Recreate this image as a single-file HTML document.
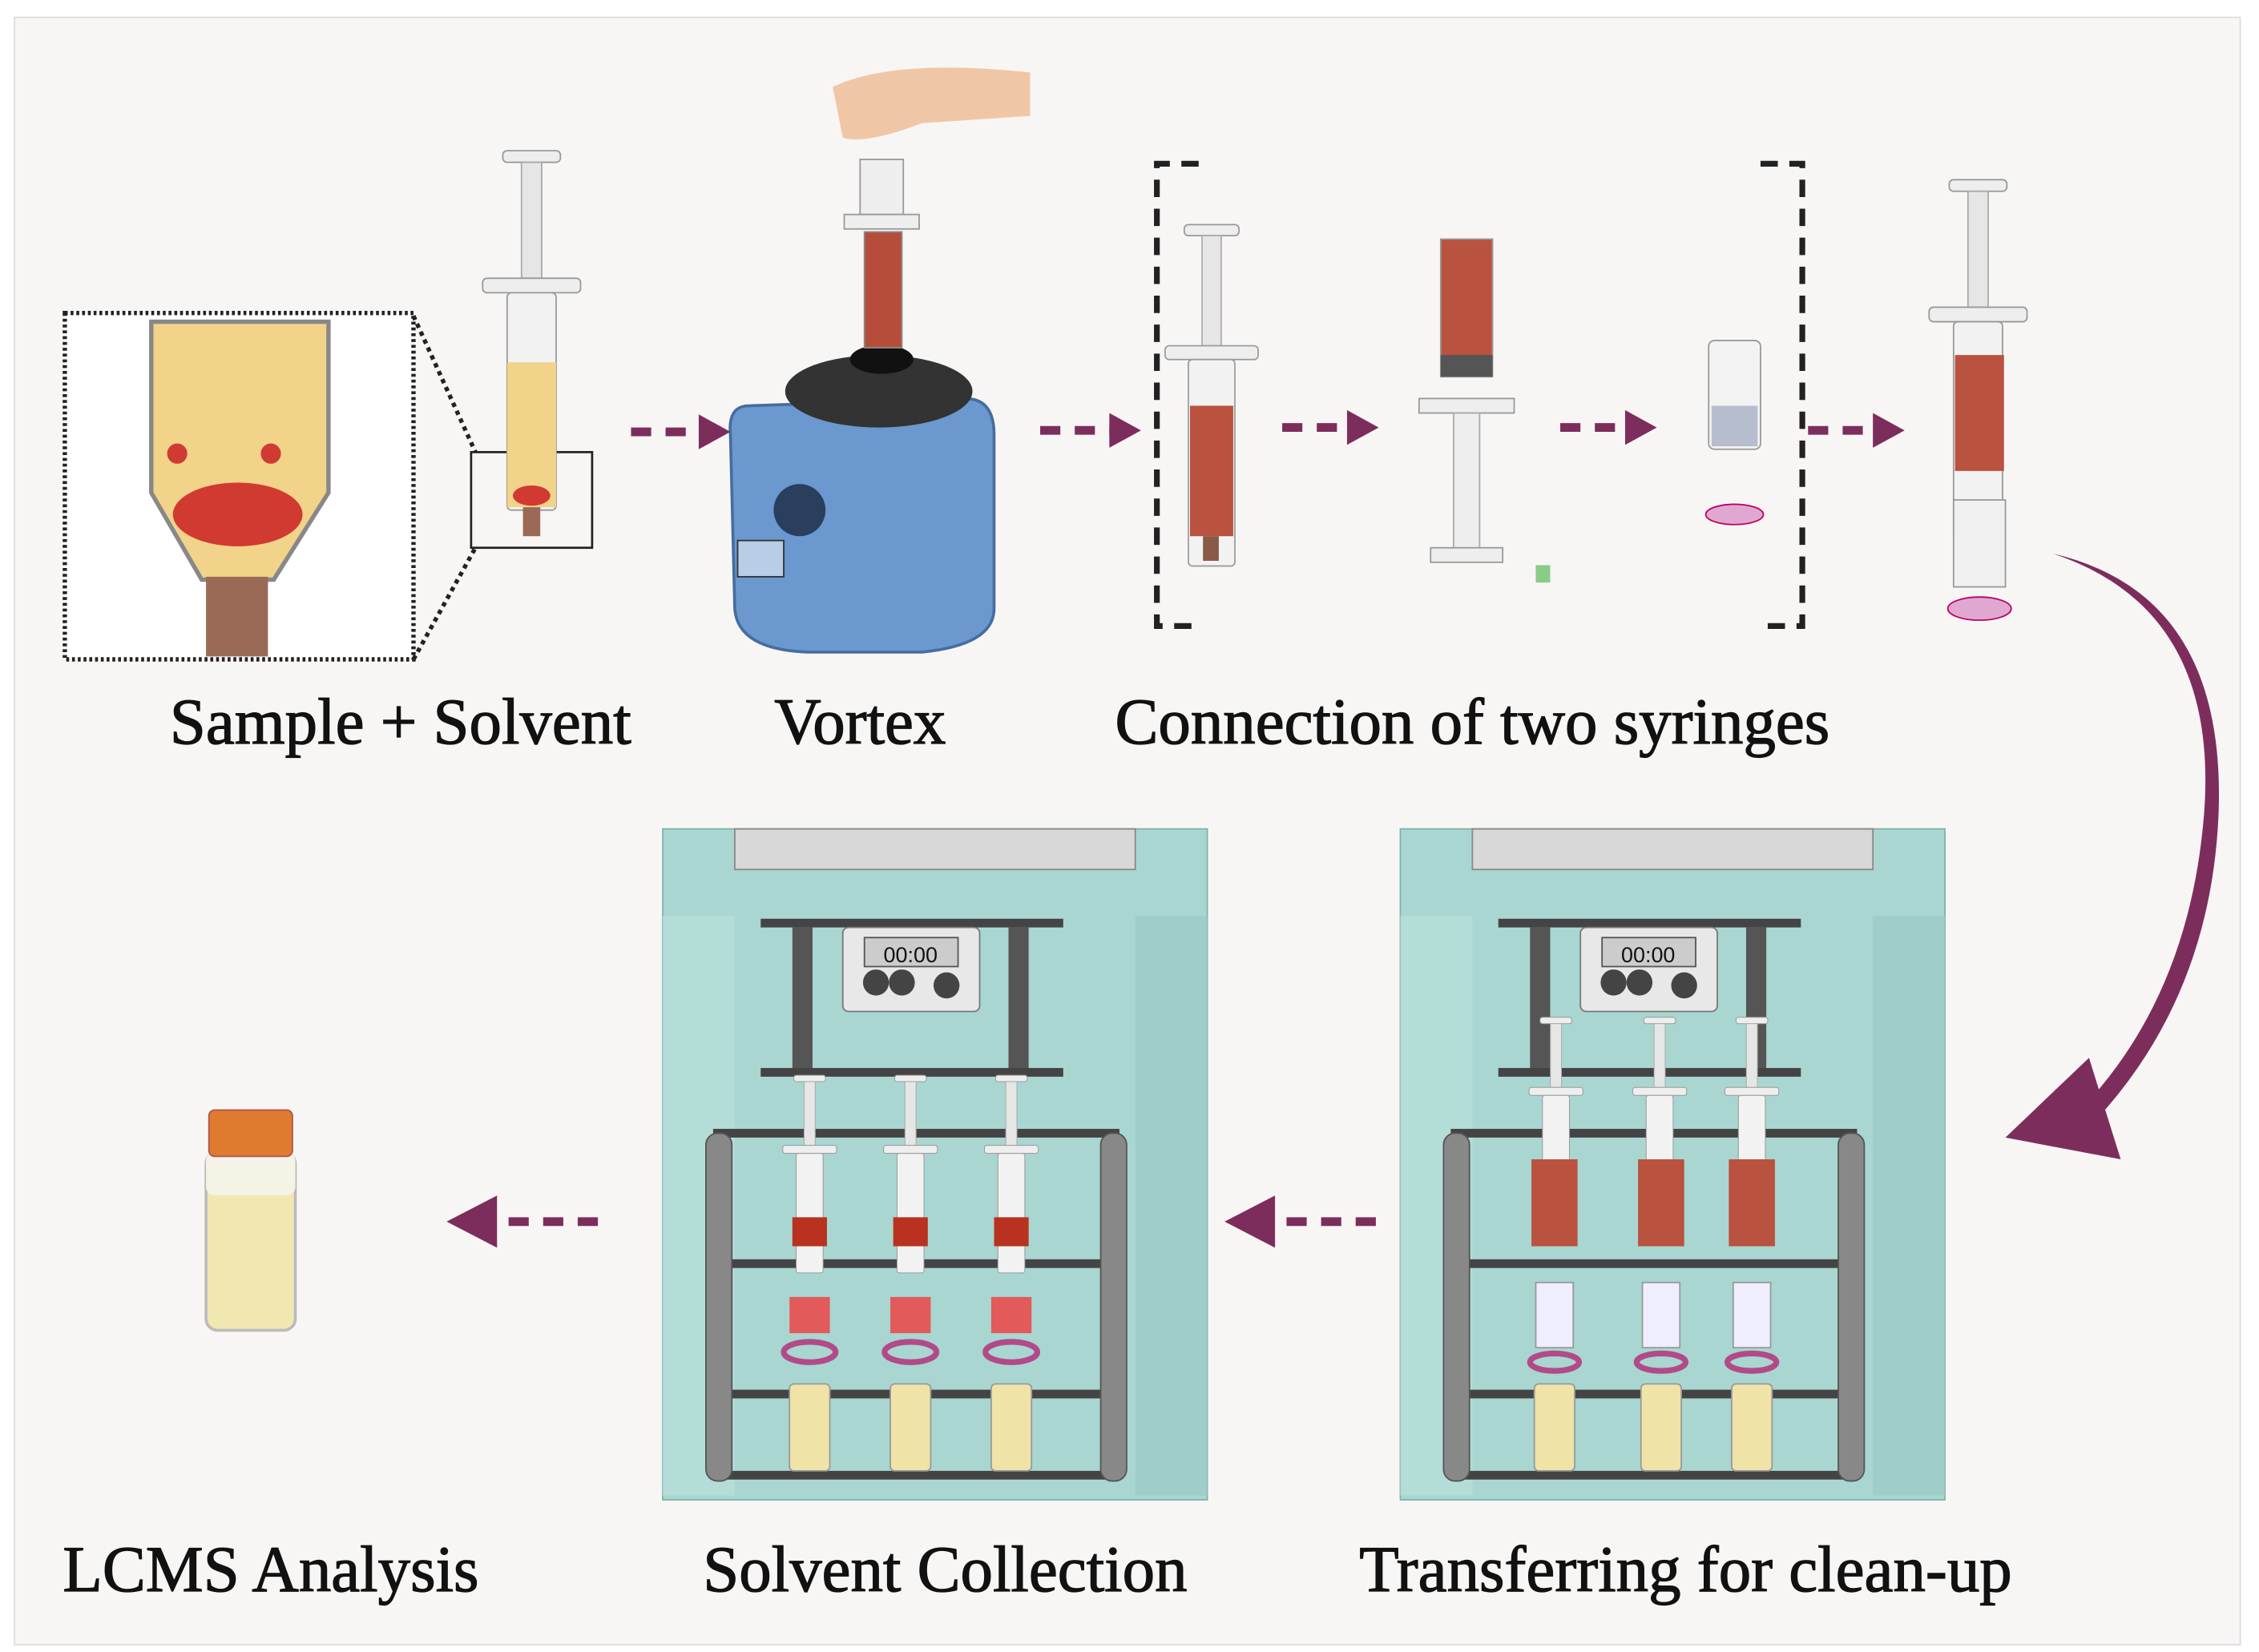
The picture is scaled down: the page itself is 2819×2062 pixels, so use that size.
<!DOCTYPE html>
<html><head><meta charset="utf-8"><style>
html,body{margin:0;padding:0;background:#fff;}
svg{display:block}
text{font-family:"Liberation Serif",serif;font-size:45px;fill:#111;stroke:#111;stroke-width:0.7;text-anchor:middle}
</style></head><body>
<svg width="2819" height="2062" viewBox="0 0 1568 1140" preserveAspectRatio="none" xmlns="http://www.w3.org/2000/svg">
<defs>
<g id="syr">
 <rect x="-20" y="0" width="40" height="8" rx="3" fill="#eee" stroke="#999"/>
 <rect x="-7" y="8" width="14" height="80" fill="#e6e6e6" stroke="#aaa"/>
 <rect x="-34" y="88" width="68" height="10" rx="3" fill="#eee" stroke="#999"/>
 <rect x="-17" y="98" width="34" height="150" rx="3" fill="#f2f2f2" stroke="#999"/>
</g>
<g id="cab">
 <rect x="0" y="0" width="378" height="463" fill="#a9d6d0" stroke="#7fb3ad"/>
 <rect x="50" y="0" width="278" height="28" fill="#d8d8d8" stroke="#888"/>
 <rect x="0" y="60" width="50" height="400" fill="#b8dfda" opacity=".8"/>
 <rect x="328" y="60" width="50" height="400" fill="#9ccbc5" opacity=".8"/>
 <rect x="68" y="62" width="210" height="6" fill="#444"/>
 <rect x="90" y="68" width="14" height="100" fill="#555"/>
 <rect x="240" y="68" width="14" height="100" fill="#555"/>
 <rect x="125" y="68" width="95" height="58" rx="4" fill="#e8e8e8" stroke="#777"/>
 <rect x="140" y="75" width="65" height="20" fill="#ccc" stroke="#555"/>
 <text x="172" y="92" style="font-family:'Liberation Sans',sans-serif;font-size:15px;stroke:none">00:00</text>
 <circle cx="148" cy="106" r="9" fill="#444"/><circle cx="166" cy="106" r="9" fill="#444"/><circle cx="197" cy="108" r="9" fill="#444"/>
 <rect x="68" y="165" width="210" height="6" fill="#444"/>
 <rect x="35" y="207" width="282" height="6" fill="#444"/>
 <rect x="35" y="297" width="282" height="6" fill="#444"/>
 <rect x="35" y="387" width="282" height="6" fill="#444"/>
 <rect x="35" y="443" width="282" height="6" fill="#444"/>
 <rect x="30" y="210" width="18" height="240" rx="8" fill="#888" stroke="#555"/>
 <rect x="304" y="210" width="18" height="240" rx="8" fill="#888" stroke="#555"/>
</g>
</defs>
<rect x="0" y="0" width="1568" height="1140" fill="#fff"/>
<rect x="10" y="12" width="1545" height="1123" fill="#f8f6f4" stroke="#ddd"/>

<rect x="45" y="216" width="242" height="239" fill="#fff" stroke="#222" stroke-width="3" stroke-dasharray="2,2"/>
<path d="M105,222 L228,222 L228,340 L190,400 L140,400 L105,340 Z" fill="#f1d38a" stroke="#888" stroke-width="3"/>
<rect x="143" y="398" width="43" height="55" fill="#9b6a57"/>
<g fill="#d13a30"><circle cx="123" cy="313" r="7"/><circle cx="188" cy="313" r="7"/>
<ellipse cx="165" cy="355" rx="45" ry="22"/></g>
<line x1="287" y1="218" x2="330" y2="312" stroke="#222" stroke-width="3" stroke-dasharray="3,3"/>
<line x1="287" y1="455" x2="330" y2="378" stroke="#222" stroke-width="3" stroke-dasharray="3,3"/>
<rect x="327" y="312" width="84" height="66" fill="none" stroke="#222" stroke-width="1.5"/>
<use href="#syr" transform="translate(369,104)"/>
<rect x="352" y="250" width="34" height="100" fill="#f1d38a"/>
<rect x="363" y="350" width="12" height="20" fill="#9b6a57"/>
<ellipse cx="369" cy="342" rx="13" ry="7" fill="#d13a30"/>

<path d="M520,280 Q505,280 507,300 L510,420 Q512,448 560,450 L640,450 Q690,445 690,420 L690,300 Q690,275 670,275 Z" fill="#6a98cf" stroke="#456d9f" stroke-width="2"/>
<ellipse cx="610" cy="270" rx="65" ry="25" fill="#333"/>
<ellipse cx="612" cy="248" rx="22" ry="10" fill="#111"/>
<circle cx="555" cy="352" r="18" fill="#2a3e5e"/>
<rect x="512" y="373" width="32" height="25" fill="#b8cde6" stroke="#333"/>
<path d="M578,60 Q620,40 715,50 L715,80 L640,85 Q600,100 585,95 Z" fill="#f0c7a6"/>
<rect x="597" y="110" width="30" height="38" fill="#eee" stroke="#999"/>
<rect x="586" y="148" width="52" height="10" fill="#eee" stroke="#999"/>
<rect x="600" y="160" width="26" height="80" fill="#b64d3a" stroke="#888"/>

<path d="M832,113 L803,113 L803,432 L832,432" fill="none" stroke="#222" stroke-width="4" stroke-dasharray="12,8"/>
<path d="M1222,113 L1251,113 L1251,432 L1222,432" fill="none" stroke="#222" stroke-width="4" stroke-dasharray="12,8"/>
<use href="#syr" transform="translate(841,155) scale(0.95)"/>
<rect x="826" y="280" width="30" height="90" fill="#b9523f"/>
<rect x="835" y="370" width="11" height="17" fill="#8a5a45"/>
<rect x="1000" y="165" width="36" height="95" fill="#b9523f" stroke="#999"/>
<rect x="1000" y="245" width="36" height="15" fill="#555"/>
<rect x="985" y="275" width="66" height="10" fill="#eee" stroke="#999"/>
<rect x="1009" y="285" width="18" height="95" fill="#eee" stroke="#aaa"/>
<rect x="993" y="378" width="50" height="10" fill="#eee" stroke="#999"/>
<rect x="1066" y="390" width="10" height="12" fill="#8c8"/>
<rect x="1186" y="235" width="36" height="75" rx="4" fill="#f3f3f3" stroke="#999"/>
<rect x="1188" y="280" width="32" height="28" fill="#7a8aa8" opacity=".5"/>
<ellipse cx="1204" cy="355" rx="20" ry="7" fill="#e0a8d0" stroke="#b06"/>
<use href="#syr" transform="translate(1373,124)"/>
<rect x="1357" y="245" width="34" height="80" fill="#b9523f"/>
<rect x="1356" y="345" width="36" height="60" fill="#f0f0f0" stroke="#999"/>
<ellipse cx="1374" cy="420" rx="22" ry="8" fill="#e0a8d0" stroke="#b06"/>

<g stroke="#7d2d5c" stroke-width="6" stroke-dasharray="14,10" fill="none">
<line x1="438" y1="298" x2="490" y2="298"/>
<line x1="722" y1="297" x2="775" y2="297"/>
<line x1="890" y1="295" x2="940" y2="295"/>
<line x1="1083" y1="295" x2="1133" y2="295"/>
<line x1="1255" y1="297" x2="1305" y2="297"/>
<line x1="955" y1="843" x2="880" y2="843"/>
<line x1="415" y1="843" x2="340" y2="843"/>
</g>
<g fill="#7d2d5c">
<path d="M485,286 L507,298 L485,310 Z"/><path d="M770,285 L792,297 L770,309 Z"/>
<path d="M935,283 L957,295 L935,307 Z"/><path d="M1128,283 L1150,295 L1128,307 Z"/>
<path d="M1300,285 L1322,297 L1300,309 Z"/>
<path d="M885,825 L850,843 L885,861 Z"/><path d="M345,825 L310,843 L345,861 Z"/>
<path d="M1425,382 Q1540,420 1530,560 Q1520,690 1440,770 L1450,778 Q1535,690 1540,560 Q1545,410 1425,382 Z"/>
<path d="M1392,785 L1450,730 L1472,800 Z"/>
</g>

<use href="#cab" transform="translate(460,572)"/>
<use href="#cab" transform="translate(972,572)"/>
<g>
<use href="#syr" transform="translate(562,742) scale(0.55)"/><use href="#syr" transform="translate(632,742) scale(0.55)"/><use href="#syr" transform="translate(702,742) scale(0.55)"/>
<rect x="550" y="840" width="24" height="20" fill="#b9321f"/><rect x="620" y="840" width="24" height="20" fill="#b9321f"/><rect x="690" y="840" width="24" height="20" fill="#b9321f"/>
<rect x="548" y="895" width="28" height="25" fill="#e25a5a"/><rect x="618" y="895" width="28" height="25" fill="#e25a5a"/><rect x="688" y="895" width="28" height="25" fill="#e25a5a"/>
<ellipse cx="562" cy="933" rx="18" ry="7" fill="none" stroke="#b24a8a" stroke-width="4"/><ellipse cx="632" cy="933" rx="18" ry="7" fill="none" stroke="#b24a8a" stroke-width="4"/><ellipse cx="702" cy="933" rx="18" ry="7" fill="none" stroke="#b24a8a" stroke-width="4"/>
<rect x="548" y="955" width="28" height="60" rx="3" fill="#efe3a8" stroke="#999"/><rect x="618" y="955" width="28" height="60" rx="3" fill="#efe3a8" stroke="#999"/><rect x="688" y="955" width="28" height="60" rx="3" fill="#efe3a8" stroke="#999"/>
<use href="#syr" transform="translate(1080,702) scale(0.55)"/><use href="#syr" transform="translate(1152,702) scale(0.55)"/><use href="#syr" transform="translate(1216,702) scale(0.55)"/>
<rect x="1063" y="800" width="32" height="60" fill="#b9523f"/><rect x="1137" y="800" width="32" height="60" fill="#b9523f"/><rect x="1200" y="800" width="32" height="60" fill="#b9523f"/>
<rect x="1066" y="885" width="26" height="45" fill="#eef" stroke="#999"/><rect x="1140" y="885" width="26" height="45" fill="#eef" stroke="#999"/><rect x="1203" y="885" width="26" height="45" fill="#eef" stroke="#999"/>
<ellipse cx="1079" cy="940" rx="17" ry="6" fill="none" stroke="#b24a8a" stroke-width="4"/><ellipse cx="1153" cy="940" rx="17" ry="6" fill="none" stroke="#b24a8a" stroke-width="4"/><ellipse cx="1216" cy="940" rx="17" ry="6" fill="none" stroke="#b24a8a" stroke-width="4"/>
<rect x="1065" y="955" width="28" height="60" rx="3" fill="#efe3a8" stroke="#999"/><rect x="1139" y="955" width="28" height="60" rx="3" fill="#efe3a8" stroke="#999"/><rect x="1202" y="955" width="28" height="60" rx="3" fill="#efe3a8" stroke="#999"/>
</g>

<rect x="143" y="795" width="62" height="123" rx="8" fill="#f1e7b0" stroke="#bbb" stroke-width="2"/>
<rect x="143" y="795" width="62" height="30" rx="6" fill="#f5f2e6"/>
<rect x="145" y="766" width="58" height="32" rx="4" fill="#e07a2e" stroke="#a55"/>

<text x="278" y="513">Sample + Solvent</text>
<text x="597" y="513">Vortex</text>
<text x="1022" y="513">Connection of two syringes</text>
<text x="188" y="1098">LCMS Analysis</text>
<text x="656" y="1098">Solvent Collection</text>
<text x="1170" y="1098">Transferring for clean-up</text>
</svg>
</body></html>
